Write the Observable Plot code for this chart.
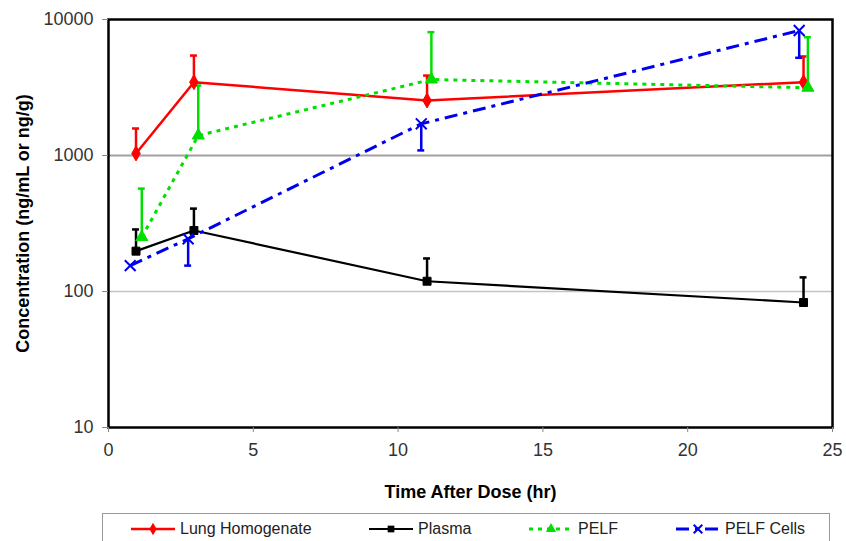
<!DOCTYPE html>
<html>
<head>
<meta charset="utf-8">
<script src="https://cdn.jsdelivr.net/npm/d3@7"></script>
<script src="https://cdn.jsdelivr.net/npm/@observablehq/plot@0.6"></script>
<style>
  html, body { margin: 0; padding: 0; background: #fff; }
  body { width: 846px; height: 541px; overflow: hidden; position: relative; font-family: "Liberation Sans", Arial, sans-serif; }
  #chart svg [aria-label="y-axis label"] text, #chart svg [aria-label="x-axis label"] text { font-weight: bold; fill: #000; }
  #legend { position: absolute; left: 102px; top: 513px; width: 728px; height: 40px; border: 1px solid #999; box-sizing: border-box; }
  .item { position: absolute; top: 6px; height: 18px; display: flex; align-items: center; font-size: 16px; color: #222; }
  .item svg { margin-right: 3px; }
</style>
</head>
<body>
<div id="chart"></div>
<div id="legend"></div>
<script>
// ---- data ----
const seriesNames = ["Lung Homogenate", "Plasma", "PELF", "PELF Cells"];

const lungTime = [0.95, 2.95, 11.0, 24.0];
const lungConc = [1035, 3460, 2535, 3460];
const lungErrHi = [1580, 5430, 3870, 5350];

const plasmaTime = [0.95, 2.95, 11.0, 24.0];
const plasmaConc = [198, 281, 119, 83];
const plasmaErrHi = [286, 407, 175, 127];

const pelfTime = [1.15, 3.1, 11.15, 24.15];
const pelfConc = [251, 1403, 3620, 3150];
const pelfErrHi = [571, 3270, 8070, 7410];

const cellsTime = [0.75, 2.75, 10.8, 23.85];
const cellsConc = [155, 244, 1710, 8300];
const cellsErrLo = [155, 155, 1090, 5230];

const xTicks = [0, 5, 10, 15, 20, 25];
const yTicks = [10, 100, 1000, 10000];
const gridValues = [100, 1000];

// ---- build tables ----
const styles = {
  "Lung Homogenate": {color: "#ff0000", dash: null, width: 2.5, symbol: "diamond"},
  "Plasma": {color: "#000000", dash: null, width: 2.2, symbol: "square"},
  "PELF": {color: "#00e000", dash: "4,5", width: 3, symbol: "triangle"},
  "PELF Cells": {color: "#0000ee", dash: "13,6,4,6", width: 3, symbol: "times"}
};

function rows(name, t, c, lo, hi) {
  return t.map((x, i) => ({series: name, x, y: c[i], lo: lo[i], hi: hi[i]}));
}
const data = [
  ...rows("Lung Homogenate", lungTime, lungConc, lungConc, lungErrHi),
  ...rows("Plasma", plasmaTime, plasmaConc, plasmaConc, plasmaErrHi),
  ...rows("PELF", pelfTime, pelfConc, pelfConc, pelfErrHi),
  ...rows("PELF Cells", cellsTime, cellsConc, cellsErrLo, cellsConc)
];

const capHalf = 0.12;
const marks = [];
marks.push(Plot.ruleY([gridValues[1]], {stroke: "#a0a0a0", strokeWidth: 2}));
marks.push(Plot.ruleY([gridValues[0]], {stroke: "#c4c4c4", strokeWidth: 1.5}));

for (const name of seriesNames) {
  const s = styles[name];
  const d = data.filter(r => r.series === name);
  const eb = d.filter(r => r.hi > r.lo);
  marks.push(Plot.ruleX(eb, {x: "x", y1: "lo", y2: "hi", stroke: s.color, strokeWidth: 2.5}));
  marks.push(Plot.ruleY(eb, {y: r => (name === "PELF Cells" ? r.lo : r.hi), x1: r => r.x - capHalf, x2: r => r.x + capHalf, stroke: s.color, strokeWidth: 2.5}));
}
for (const name of seriesNames) {
  const s = styles[name];
  const d = data.filter(r => r.series === name);
  marks.push(Plot.line(d, {x: "x", y: "y", stroke: s.color, strokeWidth: s.width, strokeDasharray: s.dash, strokeLinecap: "butt"}));
}
for (const name of seriesNames) {
  const s = styles[name];
  const d = data.filter(r => r.series === name);
  if (s.symbol === "times") {
    marks.push(Plot.dot(d, {x: "x", y: "y", symbol: "times", r: 5, stroke: s.color, strokeWidth: 2}));
  } else {
    marks.push(Plot.dot(d, {x: "x", y: "y", symbol: s.symbol, r: 4.5, fill: s.color, stroke: s.color, strokeWidth: 1}));
  }
}
marks.push(Plot.frame({stroke: "#000", strokeWidth: 2.5}));
marks.push(Plot.axisY({ticks: yTicks, tickFormat: d => String(d), tickSize: 6, tickPadding: 9, stroke: "#888", color: "#333", fontSize: 18,
  label: "Concentration (ng/mL or ng/g)", labelAnchor: "center", labelArrow: "none", labelOffset: 92}));
marks.push(Plot.axisX({ticks: xTicks, tickFormat: d => String(d), tickSize: 5, tickPadding: 11, stroke: "#888", color: "#333", fontSize: 18,
  label: "Time After Dose (hr)", labelAnchor: "center", labelArrow: "none", labelOffset: 70}));

const chart = Plot.plot({
  width: 846,
  height: 510,
  marginLeft: 108,
  marginRight: 14,
  marginTop: 19,
  marginBottom: 83,
  style: {fontFamily: "'Liberation Sans', Arial, sans-serif", fontSize: "15px", background: "#fff"},
  x: {domain: [0, 25]},
  y: {type: "log", domain: [10, 10000]},
  marks
});
document.getElementById("chart").appendChild(chart);

// ---- legend ----
const legendPos = {"Lung Homogenate": 26, "Plasma": 264, "PELF": 424, "PELF Cells": 571};
const legend = document.getElementById("legend");
for (const name of seriesNames) {
  const s = styles[name];
  const item = document.createElement("div");
  item.className = "item";
  item.style.left = legendPos[name] + "px";
  const sw = d3.create("svg").attr("width", 48).attr("height", 18);
  sw.append("line").attr("x1", 2).attr("x2", 46).attr("y1", 9).attr("y2", 9)
    .attr("stroke", s.color).attr("stroke-width", s.width).attr("stroke-dasharray", s.dash);
  const sym = {diamond: d3.symbolDiamond, square: d3.symbolSquare, triangle: d3.symbolTriangle, times: d3.symbolTimes}[s.symbol];
  const p = sw.append("path").attr("transform", "translate(24,9)").attr("d", d3.symbol(sym, s.symbol === "times" ? 50 : 45)());
  if (s.symbol === "times") p.attr("fill", "none").attr("stroke", s.color).attr("stroke-width", 2);
  else p.attr("fill", s.color);
  item.appendChild(sw.node());
  const t = document.createElement("span");
  t.textContent = name;
  item.appendChild(t);
  legend.appendChild(item);
}
</script>
</body>
</html>
